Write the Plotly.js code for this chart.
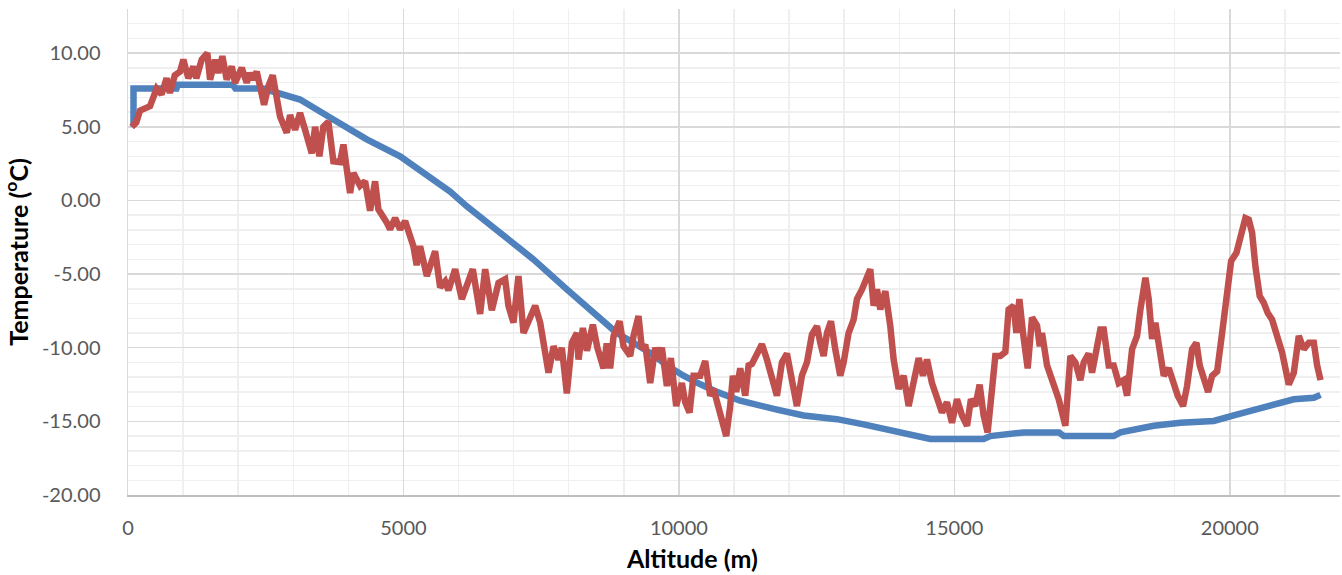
<!DOCTYPE html>
<html>
<head>
<meta charset="utf-8">
<script src="https://cdn.plot.ly/plotly-3.0.1.min.js"></script>
<style>html,body{margin:0;padding:0;background:#fff;}#chart{width:1342px;height:575px;}</style>
</head>
<body>
<div id="chart"></div>
<script>
// Blue series (altitude m, temperature °C)
const blueAlt = [100,100,880,900,1900,1950,2450,2700,3123,3728,4334,4939,5484,5847,6150,6755,7360,7966,8571,8874,9176,9500,9782,10084,10400,10690,11113,11476,11779,12263,12869,13353,13958,14563,15531,15652,16258,16900,16985,17892,18015,18316,18619,19103,19708,20071,20374,20677,20919,21161,21525,21646];
const blueTemp = [5.0,7.6,7.6,7.85,7.85,7.6,7.6,7.3,6.85,5.5,4.15,3.0,1.5,0.6,-0.4,-2.2,-4.0,-6.04,-8.1,-9.0,-9.66,-10.4,-11.2,-11.9,-12.5,-13.0,-13.6,-13.96,-14.2,-14.6,-14.85,-15.2,-15.65,-16.2,-16.2,-16.0,-15.75,-15.75,-16.0,-16.0,-15.75,-15.5,-15.3,-15.1,-14.97,-14.6,-14.3,-13.96,-13.7,-13.5,-13.4,-13.2];

// Red series
const redAlt = [67,150,218,300,400,520,610,700,760,850,945,1005,1095,1186,1240,1338,1440,1490,1580,1640,1713,1792,1883,1943,2064,2155,2215,2270,2337,2470,2548,2627,2700,2760,2882,2942,3032,3123,3214,3336,3396,3474,3546,3637,3728,3850,3910,4031,4091,4213,4304,4394,4485,4545,4697,4757,4848,4939,5030,5121,5180,5240,5302,5424,5514,5575,5666,5757,5817,5938,6059,6150,6259,6392,6483,6604,6725,6846,6906,6997,7088,7179,7270,7391,7482,7542,7633,7724,7814,7875,7966,8057,8148,8178,8257,8330,8438,8520,8632,8690,8752,8814,8923,8995,9116,9176,9267,9328,9390,9479,9570,9630,9691,9782,9854,9951,10054,10115,10193,10265,10386,10477,10568,10628,10719,10859,10931,10980,11040,11113,11204,11264,11325,11416,11507,11597,11688,11779,11870,11961,12052,12142,12233,12324,12415,12506,12566,12627,12687,12760,12838,12929,12990,13080,13171,13232,13323,13414,13474,13535,13595,13656,13747,13837,13898,13989,14080,14170,14261,14352,14430,14503,14594,14685,14775,14866,14957,15048,15139,15230,15301,15380,15459,15531,15604,15684,15743,15834,15925,15985,16076,16125,16180,16246,16331,16410,16501,16550,16591,16682,16773,16894,17015,17106,17197,17287,17348,17438,17499,17578,17650,17711,17802,17892,17983,18074,18135,18226,18316,18377,18468,18528,18589,18649,18740,18801,18892,18982,19055,19152,19224,19315,19393,19454,19527,19606,19679,19770,19860,19951,20024,20120,20193,20283,20344,20405,20465,20543,20616,20689,20768,20828,20950,21070,21161,21252,21343,21434,21525,21585,21646];
const redTemp = [5.0,5.3,6.1,6.2,6.4,7.6,7.2,8.3,7.3,8.5,8.75,9.56,8.3,9.1,8.3,9.56,10.0,8.2,9.56,8.65,9.8,8.2,9.1,7.98,9.0,8.0,8.65,8.2,8.75,6.5,7.75,8.5,7.07,5.7,4.6,5.8,4.8,5.95,4.8,3.2,5.0,3.0,5.0,5.35,2.66,2.6,3.8,0.5,1.87,1.0,1.3,-0.7,1.3,-0.6,-1.5,-1.96,-1.2,-1.96,-1.4,-2.4,-3.1,-4.4,-3.1,-5.13,-4.0,-3.45,-5.9,-5.5,-6.1,-4.67,-6.7,-5.8,-4.67,-7.7,-4.67,-7.45,-5.6,-5.35,-7.15,-8.3,-5.13,-9.0,-8.1,-7.15,-8.3,-9.9,-11.7,-9.9,-10.8,-10.0,-13.1,-9.66,-9.0,-10.8,-8.66,-10.2,-8.44,-10.0,-11.4,-9.7,-11.4,-9.2,-8.2,-9.9,-10.56,-9.2,-7.85,-10.1,-9.8,-12.4,-10.0,-10.8,-10.0,-12.6,-10.7,-13.96,-12.4,-13.7,-14.4,-11.9,-11.9,-10.9,-13.26,-12.8,-13.96,-16.0,-13.96,-11.9,-13.0,-11.4,-13.26,-11.2,-11.1,-10.33,-9.77,-10.8,-12.2,-13.26,-11.0,-10.4,-12.2,-13.96,-11.9,-11.0,-9.1,-8.53,-9.66,-10.56,-9.0,-8.2,-10.1,-11.9,-11.0,-9.0,-8.1,-6.7,-6.04,-5.13,-4.67,-7.15,-6.04,-7.4,-6.16,-8.53,-10.8,-12.8,-11.9,-13.96,-12.2,-10.7,-11.9,-10.8,-12.4,-13.26,-14.4,-13.7,-15.1,-13.5,-14.6,-15.3,-13.5,-13.96,-12.5,-14.6,-15.75,-12.8,-10.56,-10.56,-10.3,-7.4,-7.15,-9.0,-6.7,-9.0,-11.4,-7.95,-8.5,-9.9,-9.0,-11.2,-12.2,-13.5,-15.3,-10.56,-11.0,-12.2,-11.0,-10.4,-11.7,-10.26,-8.76,-8.76,-11.2,-11.2,-12.4,-12.2,-13.26,-10.1,-9.2,-7.4,-5.25,-6.7,-9.4,-8.3,-10.56,-11.9,-11.4,-12.6,-13.26,-13.96,-12.6,-10.1,-9.66,-11.2,-12.2,-13.0,-11.9,-11.6,-9.0,-6.28,-4.1,-3.56,-2.4,-1.2,-1.3,-2.2,-4.5,-6.5,-6.95,-7.65,-8.1,-8.76,-10.33,-12.5,-11.7,-9.2,-10.1,-9.66,-9.66,-11.2,-12.2];

// Tick labels
const yTickVals = [-20,-15,-10,-5,0,5,10];
const yTickText = ["-20.00","-15.00","-10.00","-5.00","0.00","5.00","10.00"];
const xTickVals = [0,5000,10000,15000,20000];
const xTickText = ["0","5000","10000","15000","20000"];

const traces = [
  {x: blueAlt, y: blueTemp, type: 'scatter', mode: 'lines',
   line: {color: '#4F81BD', width: 6.5}, hoverinfo: 'skip'},
  {x: redAlt, y: redTemp, type: 'scatter', mode: 'lines',
   line: {color: '#C0504D', width: 6.5}, hoverinfo: 'skip'}
];

const tickFont = {family: 'Lato, "Open Sans", sans-serif', size: 20, color: '#595959'};
const titleFont = {family: 'Lato, "Open Sans", sans-serif', size: 25, color: '#000000', weight: 'bold'};

const layout = {
  width: 1342, height: 575,
  margin: {l: 128, r: 2, t: 9, b: 80},
  paper_bgcolor: '#ffffff', plot_bgcolor: '#ffffff',
  showlegend: false,
  xaxis: {
    range: [0, 22000], tickmode: 'array', tickvals: xTickVals, ticktext: xTickText,
    showgrid: true, gridcolor: '#d9d9d9', gridwidth: 1.5,
    minor: {dtick: 1000, tick0: 0, showgrid: true, gridcolor: '#efefef', gridwidth: 1.5, ticks: ''},
    zeroline: false, showline: true, linecolor: '#bfbfbf', linewidth: 1.5,
    ticks: '', tickfont: tickFont, ticklabelstandoff: 14
  },
  yaxis: {
    range: [-20, 13], tickmode: 'array', tickvals: yTickVals, ticktext: yTickText,
    showgrid: true, gridcolor: '#d9d9d9', gridwidth: 1.5,
    minor: {dtick: 1, tick0: 0, showgrid: true, gridcolor: '#efefef', gridwidth: 1.5, ticks: ''},
    zeroline: false, showline: true, linecolor: '#d9d9d9', linewidth: 1.5,
    ticks: '', tickfont: tickFont, ticklabelstandoff: 22,
    title: {text: '<b>Temperature (<sup>o</sup>C)</b>', font: titleFont, standoff: 12}
  },
  annotations: [{
    text: '<b>Altitude (m)</b>', font: titleFont, showarrow: false,
    xref: 'paper', yref: 'paper', x: (691.5 - 128) / 1212, y: (495.7 - 559) / 486.4,
    xanchor: 'center', yanchor: 'middle'
  }]
};

Plotly.newPlot('chart', traces, layout, {staticPlot: true, displayModeBar: false});
</script>
</body>
</html>
